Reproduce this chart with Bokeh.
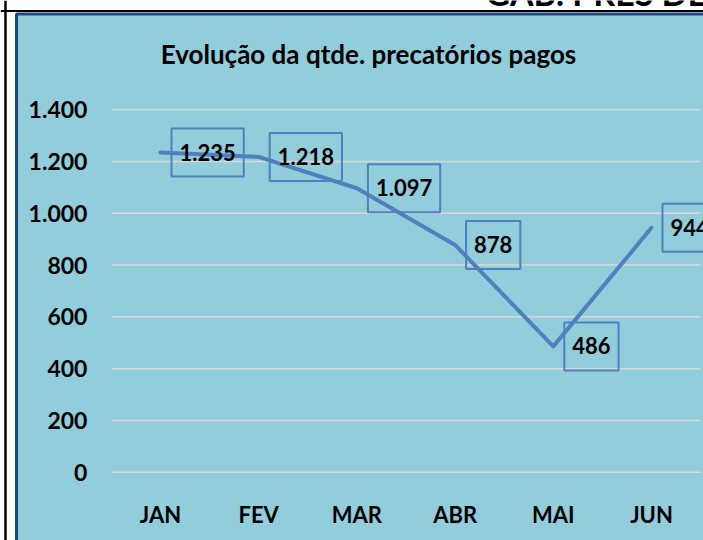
from bokeh.plotting import figure
from bokeh.models import Range1d, BoxAnnotation, Span, Label, ColumnDataSource
from bokeh.core.properties import value
from bokeh.embed import file_html
from bokeh.resources import INLINE

# ---- data ----
months = ["JAN", "FEV", "MAR", "ABR", "MAI", "JUN"]
paid = [1235, 1218, 1097, 878, 486, 944]
y_ticks = [0, 200, 400, 600, 800, 1000, 1200, 1400]
y_tick_labels = ["0", "200", "400", "600", "800", "1.000", "1.200", "1.400"]
title_text = "Evolução da qtde. precatórios pagos"
header_text = "GAB. PRES DES"

FONT = "Lato"
BLUE_BG = "#92CDDC"
DARK_BLUE = "#1F497D"
LINE_BLUE = "#4F81BD"
GRID = "#D9D9D9"

W, H = 703, 540

p = figure(width=W, height=H, output_backend="svg", toolbar_location=None,
           x_axis_type=None, y_axis_type=None,
           x_range=Range1d(-1.6293, 5.5296), y_range=Range1d(-263.9, 1822.2),
           styles={"position": "absolute", "left": "0px", "top": "0px"})
p.min_border = 0
p.outline_line_color = None
p.background_fill_color = "white"
p.border_fill_color = "white"
p.grid.visible = False

# ---- decorations (page frame) ----
p.add_layout(Span(location=5, dimension="height", location_units="screen",
                  line_color="black", line_width=2.5, level="underlay"))
p.add_layout(Span(location=H - 10.5, dimension="width", location_units="screen",
                  line_color="black", line_width=2, level="underlay"))
p.add_layout(BoxAnnotation(left=16, right=W + 20, top=H - 13.5, bottom=-20,
                           left_units="screen", right_units="screen",
                           top_units="screen", bottom_units="screen",
                           fill_color=BLUE_BG, fill_alpha=1.0,
                           line_color=DARK_BLUE, line_alpha=1.0, line_width=3,
                           level="underlay"))
p.add_layout(Label(x=485, y=H + 8.5, x_units="screen", y_units="screen",
                   text=header_text, text_font=FONT, text_font_style="bold",
                   text_font_size="34px", text_color="black",
                   text_baseline="alphabetic", text_align="left"))

# ---- title ----
p.add_layout(Label(x=368, y=H - 53, x_units="screen", y_units="screen",
                   text=title_text, text_font=FONT, text_font_style="bold",
                   text_font_size="26px", text_color="black",
                   text_align="center", text_baseline="alphabetic"))

# ---- gridlines ----
n = len(months)
p.segment(x0=[-0.5] * len(y_ticks), x1=[n - 0.5] * len(y_ticks),
          y0=y_ticks, y1=y_ticks, line_color=GRID, line_width=1.5)

# ---- y tick labels ----
p.text(x=[-0.5] * len(y_ticks), y=y_ticks, text=y_tick_labels,
       x_offset=-24, text_align="right", text_baseline="middle",
       text_font=value(FONT), text_font_style="bold", text_font_size="23px",
       text_color="black")

# ---- x tick labels ----
xs = list(range(n))
p.text(x=xs, y=[0] * n, text=months, y_offset=42,
       text_align="center", text_baseline="middle",
       text_font=value(FONT), text_font_style="bold", text_font_size="22px",
       text_color="black")

# ---- line ----
p.line(x=xs, y=paid, line_color=LINE_BLUE, line_width=4,
       line_join="round", line_cap="round")

# ---- data labels ----
lab = ColumnDataSource(dict(x=xs, y=paid,
                            t=[f"{v:,}".replace(",", ".") for v in paid]))
p.text(x="x", y="y", text="t", source=lab, x_offset=11,
       text_align="left", text_baseline="middle",
       text_font=value(FONT), text_font_style="bold", text_font_size="22px",
       text_color="black",
       border_line_color=LINE_BLUE, border_line_width=2,
       padding=dict(left=8, right=8, top=15, bottom=16))

open("out.html", "w").write(file_html(p, INLINE))
